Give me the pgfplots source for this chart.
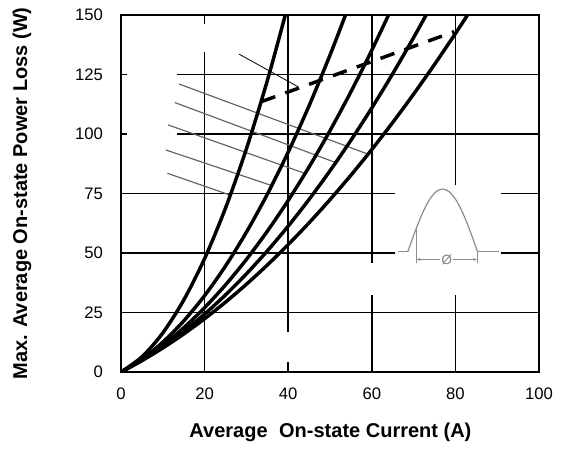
\documentclass[border=0pt]{standalone}
\usepackage{pgfplots}
\pgfplotsset{compat=1.18}
\usepackage{fontspec}
\setmainfont{Liberation Sans}
\usetikzlibrary{arrows.meta}

\begin{document}
\begin{tikzpicture}[
    gridl/.style={black, line width=1.1pt},
    curve/.style={black, line width=2.6pt},
    note/.style={black!60, line width=0.9pt},
    inset/.style={black!45, line width=0.9pt}
]
\begin{axis}[
    scale only axis,
    width=313.5pt, height=267.75pt,
    xmin=0, xmax=100, ymin=0, ymax=150,
    xtick={0,20,40,60,80,100},
    ytick={0,25,50,75,100,125,150},
    major tick length=0pt,
    axis line style={line width=1.5pt},
    /pgf/number format/assume math mode=true,
    tick label style={font=\fontsize{12.5}{15}\selectfont},
    xticklabel style={yshift=-8pt},
    yticklabel style={xshift=-10pt},
    xlabel={Average\hspace{0.3em} On-state Current (A)},
    ylabel={Max. Average On-state Power Loss (W)},
    label style={font=\bfseries\fontsize{15}{18}\selectfont},
    xlabel style={at={(axis description cs:0.501,-0.168)}, anchor=center},
    ylabel style={at={(axis description cs:-0.237,0.5)}, anchor=center},
]
% grid segments (with the gaps of the original)
\draw[gridl] (20,0) -- (20,134.6);
\draw[gridl] (20,146.2) -- (20,150);
\draw[gridl] (40,0) -- (40,4.3);
\draw[gridl] (40,16.9) -- (40,150);
\draw[gridl] (60,0) -- (60,32.4);
\draw[gridl] (60,45.8) -- (60,150);
\draw[gridl] (80,0) -- (80,32.4);
\draw[gridl] (80,78.6) -- (80,150);
\draw[gridl] (0,25) -- (100,25);
\draw[gridl] (0,50) -- (65.5,50);
\draw[gridl] (90.8,50) -- (100,50);
\draw[gridl] (0,75) -- (65.5,75);
\draw[gridl] (90.8,75) -- (100,75);
\draw[gridl] (13.3,100) -- (100,100);
\draw[gridl] (0,100) -- (1.5,100);
\draw[gridl] (13.3,125) -- (100,125);
\draw[gridl] (0,125) -- (1.5,125);

% annotation lines
\addplot[note] coordinates {(13.9,121.0) (59.0,91.6)};
\addplot[note] coordinates {(12.9,113.2) (51.5,87.9)};
\addplot[note] coordinates {(11.3,103.8) (43.9,83.5)};
\addplot[note] coordinates {(10.7,93.3) (35.6,78.6)};
\addplot[note] coordinates {(11.1,83.5) (26.0,74.4)};
\addplot[black, line width=0.6pt] coordinates {(28.2,133.6) (42.3,119.9)};

% power loss curves
\addplot[curve, smooth] coordinates {
 (0,0) (5,6.36) (10,16.42) (15,30.2) (20,47.68) (25,68.88) (30,93.78) (35,122.4) (39.3,150)};
\addplot[curve, smooth] coordinates {
 (0,0) (5,5.38) (10,12.53) (15,21.43) (20,32.1) (25,44.54) (30,58.73) (35,74.69)
 (40,92.42) (45,111.9) (50,133.15) (53.7,150)};
\addplot[curve, smooth] coordinates {
 (0,0) (5,5.06) (10,11.26) (15,18.58) (20,27.02) (25,36.6) (30,47.3) (35,59.14)
 (40,72.1) (45,86.18) (50,101.4) (55,117.74) (60,135.22) (64,150)};
\addplot[curve, smooth] coordinates {
 (0,0) (5,4.90) (10,10.58) (15,17.06) (20,24.33) (25,32.39) (30,41.24) (35,50.88)
 (40,61.31) (45,72.54) (50,84.55) (55,97.36) (60,110.95) (65,125.34) (70,140.52) (73,150)};
\addplot[curve, smooth] coordinates {
 (0,0) (5,4.77) (10,10.10) (15,15.97) (20,22.39) (25,29.36) (30,36.87) (35,44.94)
 (40,53.55) (45,62.71) (50,72.43) (55,82.68) (60,93.49) (65,104.85) (70,116.75)
 (75,129.21) (80,142.21) (82.9,150)};

% limit line (dashed)
\addplot[curve, dash pattern=on 11pt off 8pt] coordinates {
 (33.6,113.6) (56.5,128.2) (79.7,143)};

% inset waveform
\addplot[inset] coordinates {(66.2,50.5) (68.6,50.5)};
\addplot[inset, smooth] coordinates {
 (68.6,50.5) (70.27,58.66) (71.94,66.02) (73.61,71.86) (75.28,75.61) (76.95,76.9)
 (78.62,75.61) (80.29,71.86) (81.96,66.02) (83.63,58.66) (85.3,50.5)};
\addplot[inset] coordinates {(85.3,50.5) (90.5,50.5)};
\addplot[inset] coordinates {(70.6,61.0) (70.6,46.0)};
\addplot[inset] coordinates {(85.3,50.5) (85.3,46.0)};
\draw[inset, {Latex[length=3pt]}-{Latex[length=3pt]}] (70.6,47.3) -- (85.3,47.3)
  node[midway, fill=white, inner sep=1pt, text=black!50, font=\fontsize{10}{11}\selectfont] {Ø};

\coordinate (bl) at (axis description cs:-0.2895,-0.2129);
\coordinate (tr) at (axis description cs:1.0526,1.042);
\end{axis}
\path (bl) rectangle (tr);
\end{tikzpicture}
\end{document}
